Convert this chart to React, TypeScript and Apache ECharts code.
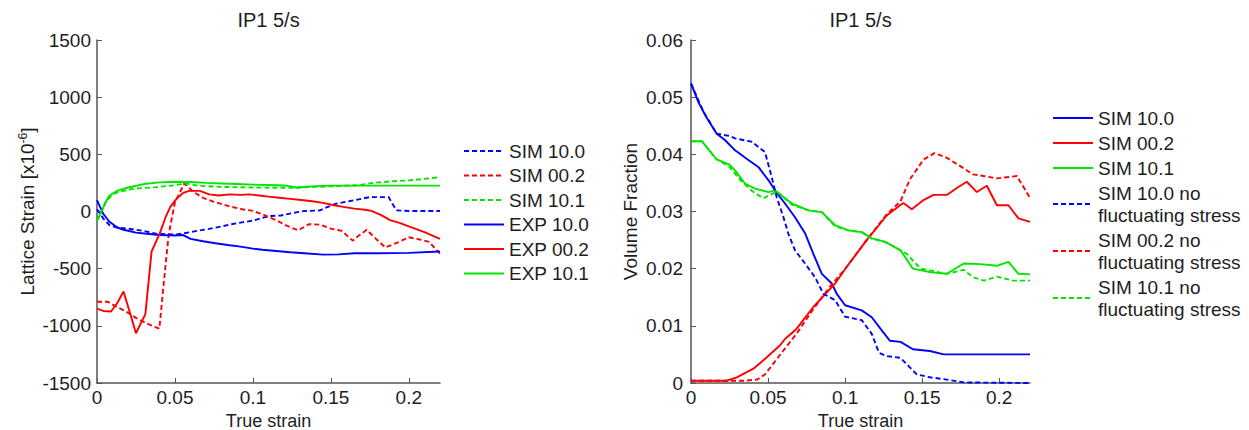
import React, { useEffect, useRef } from "react";
import * as echarts from "echarts";

const FONT = "'Liberation Sans', Arial, Helvetica, sans-serif";
const TEXT = "#1e1e1e";
const AXIS = "#555555";
const BLUE = "#0000ff";
const RED = "#ff0000";
const GREEN = "#00e600";

const titleText = "IP1 5/s";
const xName = "True strain";

// Left chart: lattice strain [x10^-6] vs true strain
const latSim100: [number, number][] = [
  [0, 20], [0.004, -60], [0.008, -120], [0.013, -140], [0.02, -150], [0.03, -170], [0.038, -195],
  [0.05, -202], [0.056, -190], [0.064, -170], [0.072, -152], [0.08, -130], [0.086, -112],
  [0.093, -95], [0.1, -80], [0.106, -55], [0.111, -40], [0.118, -35], [0.125, -15], [0.132, 3],
  [0.143, 10], [0.148, 40], [0.153, 67], [0.164, 96], [0.175, 126], [0.187, 126], [0.192, 10],
  [0.2, 5], [0.22, 5],
];
const latSim002: [number, number][] = [
  [0, -790], [0.007, -790], [0.012, -830], [0.018, -870], [0.025, -930], [0.032, -980],
  [0.04, -1025], [0.043, -600], [0.046, -200], [0.05, 80], [0.056, 245], [0.062, 170],
  [0.068, 120], [0.075, 85], [0.085, 45], [0.093, 20], [0.1, 5], [0.107, -30], [0.114, -70],
  [0.121, -120], [0.129, -165], [0.136, -110], [0.143, -115], [0.15, -150], [0.157, -170],
  [0.164, -255], [0.168, -210], [0.173, -160], [0.179, -240], [0.185, -315], [0.193, -270],
  [0.2, -225], [0.207, -245], [0.213, -265], [0.22, -370],
];
const latSim101: [number, number][] = [
  [0, -80], [0.003, 0], [0.006, 90], [0.01, 150], [0.015, 175], [0.023, 199], [0.038, 213],
  [0.05, 230], [0.057, 245], [0.065, 225], [0.08, 215], [0.1, 210], [0.113, 208], [0.128, 208],
  [0.14, 215], [0.158, 225], [0.168, 230], [0.177, 250], [0.19, 265], [0.2, 272], [0.21, 285],
  [0.22, 300],
];
const latExp100: [number, number][] = [
  [0, 100], [0.004, -20], [0.008, -90], [0.013, -140], [0.017, -160], [0.025, -185], [0.032, -195],
  [0.04, -205], [0.05, -210], [0.055, -205], [0.06, -240], [0.068, -260], [0.076, -278],
  [0.085, -295], [0.091, -305], [0.1, -325], [0.106, -335], [0.115, -345], [0.124, -357],
  [0.133, -365], [0.145, -377], [0.155, -375], [0.165, -365], [0.18, -365], [0.2, -362],
  [0.22, -350],
];
const latExp002: [number, number][] = [
  [0, -850], [0.004, -870], [0.009, -875], [0.013, -800], [0.017, -700], [0.021, -880],
  [0.025, -1065], [0.028, -980], [0.031, -900], [0.035, -350], [0.04, -200], [0.044, -50],
  [0.047, 40], [0.051, 110], [0.055, 160], [0.059, 180], [0.066, 180], [0.072, 150], [0.078, 140],
  [0.085, 150], [0.092, 145], [0.098, 150], [0.104, 140], [0.11, 130], [0.117, 120], [0.124, 110],
  [0.131, 100], [0.138, 90], [0.145, 75], [0.152, 55], [0.158, 40], [0.165, 25], [0.172, 15],
  [0.176, 5], [0.182, -30], [0.188, -75], [0.194, -100], [0.2, -130], [0.21, -180], [0.22, -240],
];
const latExp101: [number, number][] = [
  [0, -80], [0.003, 0], [0.005, 70], [0.008, 140], [0.013, 180], [0.02, 210], [0.03, 240],
  [0.04, 255], [0.05, 260], [0.06, 258], [0.07, 250], [0.08, 245], [0.09, 240], [0.1, 235],
  [0.11, 232], [0.12, 228], [0.128, 210], [0.14, 222], [0.15, 226], [0.16, 226], [0.18, 226],
  [0.2, 226], [0.22, 226],
];

// Right chart: volume fraction vs true strain
const vfSim100: [number, number][] = [
  [0, 0.0524], [0.005, 0.049], [0.01, 0.0465], [0.0167, 0.0436], [0.022, 0.0425], [0.0286, 0.0407],
  [0.0372, 0.039], [0.0437, 0.0378], [0.0502, 0.0355], [0.0545, 0.0337], [0.061, 0.0314],
  [0.0675, 0.029], [0.074, 0.0262], [0.0794, 0.0226], [0.0849, 0.0191], [0.0914, 0.0174],
  [0.0946, 0.0156], [0.1, 0.0136], [0.1108, 0.0127], [0.1173, 0.0115], [0.1238, 0.0092],
  [0.129, 0.0074], [0.136, 0.0072], [0.144, 0.0059], [0.155, 0.0056], [0.164, 0.005],
  [0.18, 0.005], [0.22, 0.005],
];
const vfSim002: [number, number][] = [
  [0, 0.0004], [0.0232, 0.0004], [0.0297, 0.001], [0.0405, 0.0025], [0.0492, 0.0045],
  [0.0578, 0.0066], [0.061, 0.0077], [0.0686, 0.0095], [0.0794, 0.0133], [0.0935, 0.0174],
  [0.101, 0.0203], [0.114, 0.025], [0.127, 0.0293], [0.1357, 0.0311], [0.1379, 0.0315],
  [0.1433, 0.0304], [0.1509, 0.032], [0.1574, 0.0329], [0.166, 0.0329], [0.1725, 0.0341],
  [0.179, 0.0352], [0.1855, 0.0334], [0.192, 0.0345], [0.1985, 0.0311], [0.206, 0.0311],
  [0.2125, 0.0288], [0.22, 0.0282],
];
const vfSim101: [number, number][] = [
  [0, 0.0423], [0.007, 0.0423], [0.0167, 0.0391], [0.025, 0.0382], [0.0286, 0.0372],
  [0.035, 0.0349], [0.0416, 0.034], [0.0502, 0.0334], [0.0545, 0.0337], [0.0654, 0.0314],
  [0.0762, 0.0302], [0.0849, 0.0299], [0.0935, 0.0276], [0.1021, 0.0267], [0.1108, 0.0264],
  [0.1173, 0.0253], [0.126, 0.0247], [0.136, 0.0232], [0.144, 0.02], [0.155, 0.0194],
  [0.166, 0.0191], [0.177, 0.0209], [0.188, 0.0208], [0.1985, 0.0205], [0.206, 0.0212],
  [0.2125, 0.0191], [0.22, 0.019],
];
const vfSim100NoFluct: [number, number][] = [
  [0, 0.0524], [0.008, 0.0475], [0.0167, 0.0436], [0.025, 0.0432], [0.0286, 0.0428],
  [0.0394, 0.0422], [0.048, 0.0404], [0.0524, 0.036], [0.0556, 0.0325], [0.06, 0.029],
  [0.0632, 0.0261], [0.0675, 0.0232], [0.074, 0.0209], [0.0805, 0.0185], [0.0859, 0.0156],
  [0.0935, 0.0145], [0.1, 0.0116], [0.1108, 0.011], [0.1173, 0.0086], [0.122, 0.0053],
  [0.127, 0.0047], [0.136, 0.0044], [0.1465, 0.0015], [0.155, 0.001], [0.166, 0.0006],
  [0.177, 0.0001], [0.22, 0],
];
const vfSim002NoFluct: [number, number][] = [
  [0, 0.0004], [0.02, 0.0004], [0.035, 0.0004], [0.043, 0.0006], [0.048, 0.0015], [0.058, 0.005],
  [0.069, 0.0088], [0.079, 0.0128], [0.09, 0.0168], [0.101, 0.0203], [0.114, 0.025],
  [0.127, 0.0295], [0.136, 0.0318], [0.142, 0.0356], [0.151, 0.0391], [0.158, 0.0402],
  [0.166, 0.0394], [0.175, 0.0379], [0.183, 0.0365], [0.19, 0.0362], [0.1985, 0.0358],
  [0.2115, 0.0362], [0.22, 0.0324],
];
const vfSim101NoFluct: [number, number][] = [
  [0, 0.0423], [0.007, 0.0423], [0.0167, 0.0391], [0.025, 0.0378], [0.032, 0.0355], [0.04, 0.0335],
  [0.047, 0.0323], [0.0556, 0.0335], [0.0654, 0.0312], [0.0762, 0.0302], [0.0849, 0.0299],
  [0.0935, 0.0274], [0.1021, 0.0267], [0.1108, 0.0264], [0.1173, 0.0253], [0.126, 0.0247],
  [0.136, 0.0232], [0.14, 0.0226], [0.149, 0.02], [0.166, 0.0191], [0.177, 0.0198],
  [0.183, 0.0185], [0.19, 0.0179], [0.1985, 0.0186], [0.209, 0.0179], [0.22, 0.0179],
];

const leftNames = ["SIM 10.0", "SIM 00.2", "SIM 10.1", "EXP 10.0", "EXP 00.2", "EXP 10.1"];
const rightNames = [
  "SIM 10.0",
  "SIM 00.2",
  "SIM 10.1",
  "SIM 10.0 no\nfluctuating stress",
  "SIM 00.2 no\nfluctuating stress",
  "SIM 10.1 no\nfluctuating stress",
];
const RIGHT_PREFIX = "vf|";

type Def = { name: string; data: [number, number][]; color: string; dashed: boolean; grid: number };

const defs: Def[] = [
  { name: leftNames[0], data: latSim100, color: BLUE, dashed: true, grid: 0 },
  { name: leftNames[1], data: latSim002, color: RED, dashed: true, grid: 0 },
  { name: leftNames[2], data: latSim101, color: GREEN, dashed: true, grid: 0 },
  { name: leftNames[3], data: latExp100, color: BLUE, dashed: false, grid: 0 },
  { name: leftNames[4], data: latExp002, color: RED, dashed: false, grid: 0 },
  { name: leftNames[5], data: latExp101, color: GREEN, dashed: false, grid: 0 },
  { name: RIGHT_PREFIX + rightNames[0], data: vfSim100, color: BLUE, dashed: false, grid: 1 },
  { name: RIGHT_PREFIX + rightNames[1], data: vfSim002, color: RED, dashed: false, grid: 1 },
  { name: RIGHT_PREFIX + rightNames[2], data: vfSim101, color: GREEN, dashed: false, grid: 1 },
  { name: RIGHT_PREFIX + rightNames[3], data: vfSim100NoFluct, color: BLUE, dashed: true, grid: 1 },
  { name: RIGHT_PREFIX + rightNames[4], data: vfSim002NoFluct, color: RED, dashed: true, grid: 1 },
  { name: RIGHT_PREFIX + rightNames[5], data: vfSim101NoFluct, color: GREEN, dashed: true, grid: 1 },
];

const plainNumber = (v: number) => String(Math.round(v * 1e6) / 1e6);

const axisCommon = {
  axisLine: { show: true, onZero: false, lineStyle: { color: AXIS, width: 1.5 } },
  axisTick: { show: true, inside: true, length: 5, lineStyle: { color: AXIS, width: 1 } },
  axisLabel: { color: TEXT, fontSize: 19, fontFamily: FONT, margin: 6, formatter: plainNumber },
  splitLine: { show: false },
  nameTextStyle: { color: TEXT, fontSize: 19, fontFamily: FONT, lineHeight: 22 },
};

function makeX(gridIndex: number) {
  return {
    type: "value",
    gridIndex,
    min: 0,
    max: 0.22,
    interval: 0.05,
    name: xName,
    nameLocation: "middle",
    nameGap: 18,
    ...axisCommon,
    nameTextStyle: { ...axisCommon.nameTextStyle, fontSize: 18, lineHeight: 16 },
    axisLabel: { ...axisCommon.axisLabel, showMaxLabel: false, margin: 5 },
  };
}

export default function App() {
  const ref = useRef<HTMLDivElement>(null);
  useEffect(() => {
    if (!ref.current) return;
    const chart = echarts.init(ref.current, undefined, { renderer: "svg" });
    const legendCommon = {
      orient: "vertical",
      padding: 0,
      itemWidth: 40,
      itemHeight: 2,
      selectedMode: false,
      itemStyle: { opacity: 0 },
      textStyle: { color: TEXT, fontSize: 19, fontFamily: FONT, lineHeight: 22 },
    };
    chart.setOption({
      animation: false,
      backgroundColor: "#ffffff",
      grid: [
        { left: 97, top: 40, width: 343, height: 343, containLabel: false, outerBoundsMode: "none" },
        { left: 691, top: 40, width: 339, height: 343, containLabel: false, outerBoundsMode: "none" },
      ],
      xAxis: [makeX(0), makeX(1)],
      yAxis: [
        {
          type: "value",
          gridIndex: 0,
          min: -1500,
          max: 1500,
          interval: 500,
          name: "Lattice Strain [x10{sup|-6}]",
          nameLocation: "middle",
          nameGap: 43,
          ...axisCommon,
          nameTextStyle: {
            ...axisCommon.nameTextStyle,
            rich: {
              sup: { fontSize: 12, fontFamily: FONT, color: TEXT, verticalAlign: "top", lineHeight: 12 },
            },
          },
        },
        {
          type: "value",
          gridIndex: 1,
          min: 0,
          max: 0.06,
          interval: 0.01,
          name: "Volume Fraction",
          nameLocation: "middle",
          nameGap: 50,
          ...axisCommon,
          axisLabel: { ...axisCommon.axisLabel, margin: 8 },
        },
      ],
      legend: [
        {
          ...legendCommon,
          left: 463,
          top: 140,
          itemGap: 2.5,
          data: leftNames,
        },
        {
          ...legendCommon,
          left: 1052,
          top: 107,
          itemGap: 3,
          data: rightNames.map((n) => RIGHT_PREFIX + n),
          formatter: (n: string) => n.replace(RIGHT_PREFIX, ""),
        },
      ],
      graphic: [
        {
          type: "text",
          x: 268.5,
          y: 20,
          style: { text: titleText, fontSize: 20, fontFamily: FONT, fill: TEXT, align: "center", verticalAlign: "middle" },
        },
        {
          type: "text",
          x: 860.5,
          y: 20,
          style: { text: titleText, fontSize: 20, fontFamily: FONT, fill: TEXT, align: "center", verticalAlign: "middle" },
        },
      ],
      series: defs.map((d) => ({
        type: "line",
        name: d.name,
        xAxisIndex: d.grid,
        yAxisIndex: d.grid,
        data: d.data,
        symbol: "none",
        showSymbol: false,
        color: d.color,
        lineStyle: { color: d.color, width: 1.9, type: d.dashed ? [5, 3] : "solid" },
        emphasis: { disabled: true },
      })),
    });
    return () => chart.dispose();
  }, []);
  return (
    <div
      ref={ref}
      style={{ position: "fixed", left: 0, top: 0, width: 1249, height: 430, background: "#fff" }}
    />
  );
}
